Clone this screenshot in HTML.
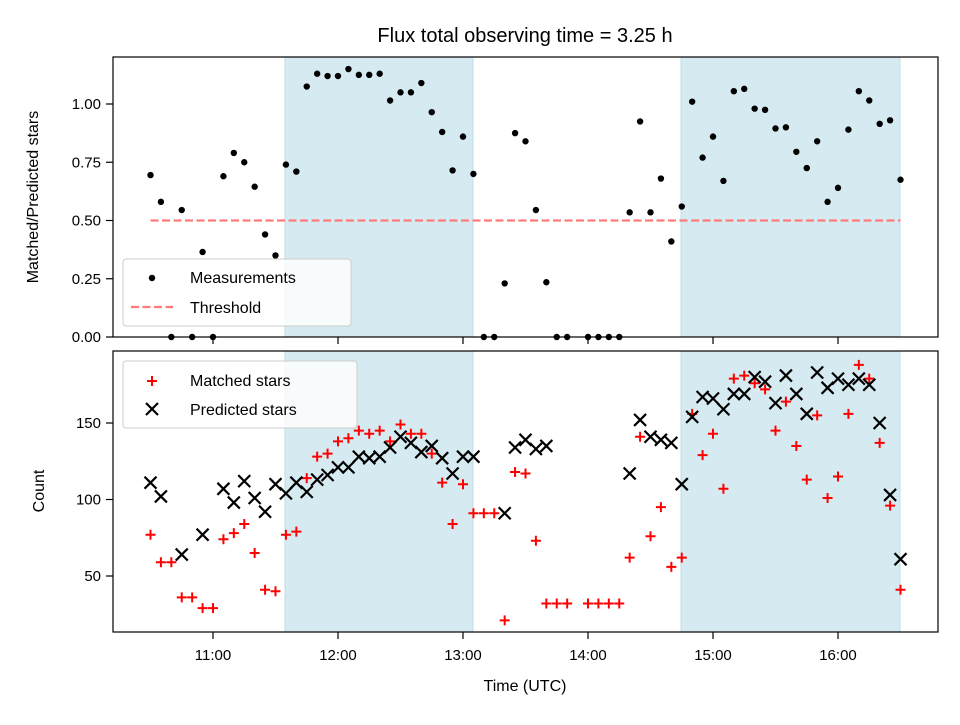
<!DOCTYPE html>
<html><head><meta charset="utf-8"><style>
body{margin:0;background:#fff;}
svg text{font-family:"Liberation Sans","DejaVu Sans",sans-serif;fill:#000;}
</style></head><body>
<svg id="chart" width="960" height="720" xmlns="http://www.w3.org/2000/svg"></svg>
<script>
const times = [];
for (let k=0;k<73;k++){ times.push(10.5 + k*5/60); }
const ratio = [0.695,0.58,0,0.545,0,0.365,0,0.69,0.79,0.75,0.645,0.44,0.35,0.74,0.71,1.075,1.13,1.12,1.12,1.15,1.125,1.125,1.13,1.015,1.05,1.05,1.09,0.965,0.88,0.715,0.86,0.70,0,0,0.23,0.875,0.84,0.545,0.235,0,0,null,0,0,0,0,0.535,0.925,0.535,0.68,0.41,0.56,1.01,0.77,0.86,0.67,1.055,1.065,0.98,0.975,0.895,0.90,0.795,0.725,0.84,0.58,0.64,0.89,1.055,1.015,0.915,0.93,0.675];
const matched = [77,59,59,36,36,29,29,74,78,84,65,41,40,77,79,114,128,130,138,140,145,143,145,138,149,143,143,130,111,84,110,91,91,91,21,118,117,73,32,32,32,null,32,32,32,32,62,141,76,95,56,62,156,129,143,107,179,181,176,172,145,164,135,113,155,101,115,156,188,179,137,96,41];
const predicted = [111,102,null,64,null,77,null,107,98,112,101,92,110,104,111,105,113,116,121,121,128,127,128,134,141,137,131,135,127,117,128,128,null,null,91,134,139,133,135,null,null,null,null,null,null,null,117,152,141,139,137,110,154,167,166,159,169,169,180,177,163,181,169,156,183,173,179,175,179,175,150,103,61];
const threshold = 0.5;
const spans = [[11.576,13.08],[14.744,16.496]];
const xTickVals = [11,12,13,14,15,16];
const xTickLabels = ["11:00","12:00","13:00","14:00","15:00","16:00"];
const topTicks = [0,0.25,0.5,0.75,1.0];
const topTickLabels = ["0.00","0.25","0.50","0.75","1.00"];
const botTicks = [50,100,150];
const botTickLabels = ["50","100","150"];

const NS="http://www.w3.org/2000/svg";
const svg=document.getElementById('chart');
function el(tag,attrs,parent){const e=document.createElementNS(NS,tag);for(const k in attrs)e.setAttribute(k,attrs[k]);(parent||svg).appendChild(e);return e;}
const L=113,R=938;
const xs=t=>213+(t-11)*125;
const T1=57,B1=337, T2=351,B2=632;
const y1=v=>B1-v*233;
const y2=v=>576-(v-50)*1.53;

let t=el('text',{x:525,y:42,'font-size':20,'text-anchor':'middle'});t.textContent='Flux total observing time = 3.25 h';



function panel(T,B,name){
  const g=el('g',{});
  
  
  spans.forEach((s,i)=>{
    const r=el('rect',{x:xs(s[0]),y:T,width:xs(s[1])-xs(s[0]),height:B-T,fill:'#d6ebf1',stroke:'#bcdde7','stroke-width':1},g);
    
    
  });
  return g;
}
function frame(T,B,g){
  el('rect',{x:L,y:T,width:R-L,height:B-T,fill:'none',stroke:'#000','stroke-width':1.2},g);
  xTickVals.forEach(v=>el('line',{x1:xs(v),x2:xs(v),y1:B,y2:B+7,stroke:'#000','stroke-width':1.2},g));
}
const g1=panel(T1,B1,'ratio-panel');
const th=el('line',{x1:xs(10.5),x2:xs(16.5),y1:y1(threshold),y2:y1(threshold),stroke:'#ff7b7b','stroke-width':2.2,'stroke-dasharray':'8,3.5'},g1);


ratio.forEach((v,i)=>{ if(v===null)return;
  const c=el('circle',{cx:xs(times[i]),cy:y1(v),r:3.2,fill:'#000'},g1);
  
  
});
frame(T1,B1,g1);
topTicks.forEach((v,i)=>{el('line',{x1:L-7,x2:L,y1:y1(v),y2:y1(v),stroke:'#000','stroke-width':1.2},g1);
  const tx=el('text',{x:L-12,y:y1(v)+5,'font-size':15,'text-anchor':'end'},g1);tx.textContent=topTickLabels[i];
  
  });
let yl=el('text',{x:38,y:197,'font-size':16,'text-anchor':'middle',transform:'rotate(-90 38 197)'});yl.textContent='Matched/Predicted stars';


const lg1=el('g',{});


el('rect',{x:123,y:259,width:228,height:67,rx:3,fill:'rgba(255,255,255,0.8)',stroke:'#ccc'},lg1);
el('circle',{cx:152,cy:278,r:3.2,fill:'#000'},lg1);
let lt=el('text',{x:190,y:283,'font-size':16},lg1);lt.textContent='Measurements';
el('line',{x1:131,x2:173,y1:307,y2:307,stroke:'#ff7b7b','stroke-width':2.2,'stroke-dasharray':'8,3.5'},lg1);
lt=el('text',{x:190,y:313,'font-size':16},lg1);lt.textContent='Threshold';

const g2=panel(T2,B2,'count-panel');
function plus(x,y,g){const p=el('path',{d:`M${x-5} ${y}H${x+5}M${x} ${y-5}V${y+5}`,stroke:'#ff0000','stroke-width':2,fill:'none'},g);return p;}
function cross(x,y,g){const p=el('path',{d:`M${x-6} ${y-6}L${x+6} ${y+6}M${x-6} ${y+6}L${x+6} ${y-6}`,stroke:'#000','stroke-width':2.2,fill:'none'},g);return p;}
matched.forEach((v,i)=>{ if(v===null)return;
  const p=plus(xs(times[i]),y2(v),g2);
  
  
});
predicted.forEach((v,i)=>{ if(v===null)return;
  const p=cross(xs(times[i]),y2(v),g2);
  
  
});
frame(T2,B2,g2);
xTickVals.forEach((v,i)=>{const tx=el('text',{x:xs(v),y:B2+28,'font-size':15,'text-anchor':'middle'},g2);tx.textContent=xTickLabels[i];
  
  });
botTicks.forEach((v,i)=>{el('line',{x1:L-7,x2:L,y1:y2(v),y2:y2(v),stroke:'#000','stroke-width':1.2},g2);
  const tx=el('text',{x:L-12,y:y2(v)+5,'font-size':15,'text-anchor':'end'},g2);tx.textContent=botTickLabels[i];
  
  });
yl=el('text',{x:44,y:491,'font-size':16,'text-anchor':'middle',transform:'rotate(-90 44 491)'});yl.textContent='Count';


let xl=el('text',{x:525,y:691,'font-size':16,'text-anchor':'middle'});xl.textContent='Time (UTC)';


const lg2=el('g',{});


el('rect',{x:123,y:361,width:234,height:67,rx:3,fill:'rgba(255,255,255,0.8)',stroke:'#ccc'},lg2);
plus(152,381,lg2);
lt=el('text',{x:190,y:386,'font-size':16},lg2);lt.textContent='Matched stars';
cross(152,409,lg2);
lt=el('text',{x:190,y:415,'font-size':16},lg2);lt.textContent='Predicted stars';
</script>
</body></html>
